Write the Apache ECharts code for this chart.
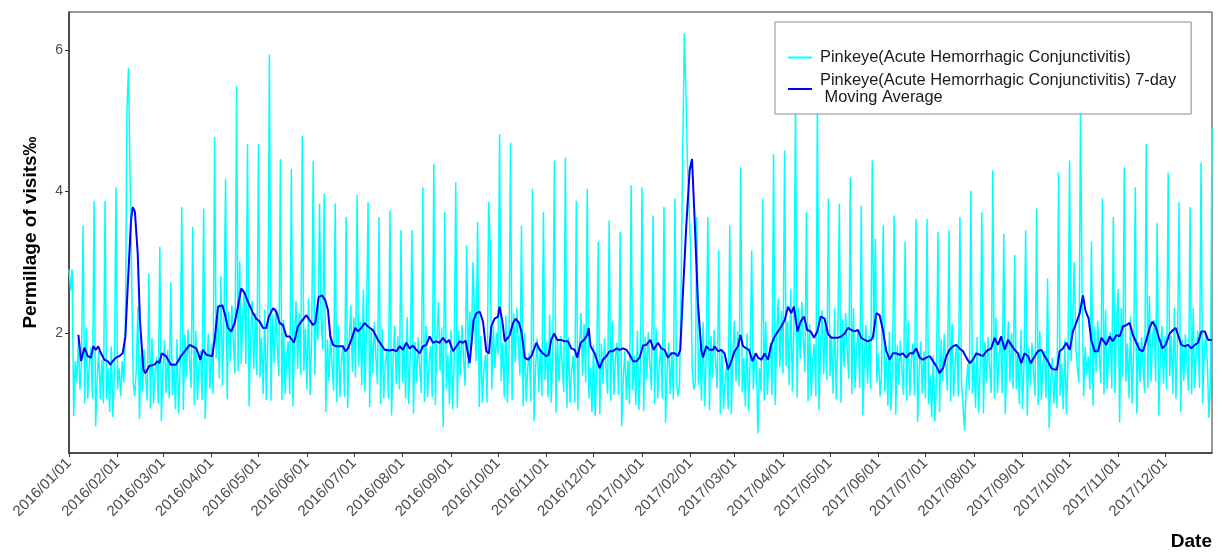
<!DOCTYPE html>
<html>
<head>
<meta charset="utf-8">
<title>Pinkeye visits</title>
<script src="https://cdn.jsdelivr.net/npm/echarts@6.0.0/dist/echarts.min.js"></script>
<style>
  html, body { margin: 0; padding: 0; background: #fff; }
  #chart { width: 1222px; height: 556px; }
</style>
</head>
<body>
<div id="chart"></div>
<script>
// day 0 = 2016/01/01, one value per day, rows are Mon..Sun weeks
const dailyVisits = [
  2.9, 2.6, 2.9,
  0.82, 1.6, 1.3, 1.9, 1.2, 1.6, 3.52,
  1.0, 2.07, 1.07, 1.57, 1.79, 1.07, 3.87,
  0.68, 1.37, 1.74, 1.06, 1.62, 1.0, 3.87,
  1.06, 1.5, 0.88, 1.81, 0.81, 1.44, 4.06,
  1.2, 1.5, 1.1, 1.6, 1.3, 2.0, 5.12,
  5.75, 4.2, 2.8, 1.3, 1.1, 1.5, 2.37,
  0.78, 1.69, 1.17, 1.76, 1.37, 1.04, 2.84,
  0.93, 1.93, 1.0, 1.46, 1.66, 1.0, 3.22,
  0.75, 1.49, 1.9, 1.15, 1.76, 1.08, 2.72,
  1.12, 1.58, 0.92, 1.91, 0.86, 1.52, 3.78,
  0.91, 1.98, 1.37, 2.05, 1.6, 1.22, 3.5,
  0.98, 2.03, 1.05, 1.54, 1.75, 1.05, 3.76,
  0.78, 1.56, 1.99, 1.21, 1.85, 1.14, 4.77,
  1.64, 2.32, 1.35, 2.8, 1.25, 2.22, 4.18,
  1.06, 2.3, 1.59, 2.39, 1.86, 1.42, 5.49,
  1.46, 3.02, 1.56, 2.29, 2.6, 1.56, 4.67,
  0.96, 1.93, 2.45, 1.49, 2.28, 1.4, 4.67,
  1.37, 1.93, 1.13, 2.33, 1.05, 1.85, 5.94,
  1.04, 2.26, 1.57, 2.35, 1.83, 1.39, 4.46,
  1.05, 2.18, 1.13, 1.65, 1.88, 1.13, 4.32,
  0.96, 1.93, 2.45, 1.49, 2.28, 1.4, 4.79,
  1.46, 2.06, 1.2, 2.49, 1.12, 1.98, 4.44,
  1.4, 2.3, 1.9, 3.83, 2.2, 1.76, 3.97,
  0.88, 1.91, 1.32, 1.98, 1.54, 1.18, 3.83,
  1.02, 2.1, 1.09, 1.6, 1.81, 1.09, 3.64,
  0.94, 1.88, 2.39, 1.45, 2.22, 1.37, 3.95,
  1.53, 2.16, 1.26, 2.61, 1.17, 2.07, 3.85,
  0.95, 2.07, 1.43, 2.15, 1.67, 1.27, 3.64,
  0.99, 2.06, 1.07, 1.56, 1.78, 1.07, 3.73,
  0.83, 1.65, 2.1, 1.28, 1.95, 1.2, 3.45,
  1.3, 1.84, 1.07, 2.22, 0.99, 1.76, 3.45,
  0.86, 1.87, 1.3, 1.94, 1.51, 1.15, 4.06,
  1.02, 2.1, 1.09, 1.6, 1.81, 1.09, 4.39,
  0.98, 1.96, 2.44, 1.46, 2.08, 0.66, 3.71,
  1.2, 1.69, 0.99, 2.04, 0.92, 1.62, 4.13,
  0.94, 2.03, 1.4, 2.11, 1.64, 1.25, 3.24,
  1.5, 2.3, 1.8, 3.0, 2.26, 1.6, 3.57,
  0.95, 1.96, 1.01, 1.49, 1.69, 1.01, 3.85,
  3.29, 1.2, 2.1, 1.5, 2.0, 1.69, 4.81,
  1.32, 1.86, 1.09, 2.25, 1.01, 1.78, 4.69,
  1.05, 2.28, 1.58, 2.36, 1.84, 1.4, 3.52,
  0.96, 1.99, 1.03, 1.51, 1.71, 1.03, 4.04,
  0.75, 1.51, 1.92, 1.16, 1.78, 1.1, 3.71,
  1.33, 1.87, 1.09, 2.26, 1.01, 1.79, 4.44,
  0.87, 1.89, 1.31, 1.96, 1.52, 1.16, 4.48,
  0.94, 1.94, 1.01, 1.47, 1.68, 1.01, 3.87,
  0.9, 1.79, 2.28, 1.39, 2.12, 1.3, 4.04,
  1.07, 1.51, 0.88, 1.83, 0.82, 1.45, 3.29,
  0.85, 1.85, 1.28, 1.92, 1.49, 1.14, 3.59,
  1.04, 2.16, 1.12, 1.64, 1.86, 1.12, 3.43,
  0.68, 1.36, 1.74, 1.05, 1.61, 0.99, 4.09,
  1.19, 1.68, 0.98, 2.03, 0.91, 1.61, 4.06,
  0.89, 1.94, 1.34, 2.01, 1.56, 1.19, 3.66,
  0.99, 2.06, 1.07, 1.56, 1.78, 1.07, 3.78,
  0.73, 1.46, 1.86, 1.13, 1.73, 1.06, 3.9,
  1.3, 1.1, 1.3, 2.8, 4.6, 6.24, 5.4,
  4.4, 3.8, 3.2, 1.5, 1.2, 1.3, 3.64,
  1.26, 1.78, 1.04, 2.15, 0.96, 1.7, 3.64,
  0.91, 1.96, 1.36, 2.04, 1.59, 1.21, 3.17,
  0.85, 1.77, 0.92, 1.34, 1.53, 0.92, 3.52,
  0.85, 1.71, 2.17, 1.32, 2.02, 1.24, 4.34,
  1.16, 1.64, 0.96, 1.99, 0.89, 1.58, 3.17,
  1.2, 1.67, 1.6, 0.58, 1.5, 1.17, 3.9,
  1.04, 2.16, 1.12, 1.64, 1.86, 1.12, 4.53,
  0.98, 1.96, 2.49, 1.51, 2.31, 1.42, 4.58,
  1.53, 2.16, 1.26, 2.61, 1.17, 2.07, 5.3,
  1.09, 2.35, 1.63, 2.44, 1.9, 1.45, 3.71,
  1.03, 2.13, 1.1, 1.62, 1.84, 1.1, 5.35,
  0.91, 1.83, 2.32, 1.41, 2.16, 1.33, 3.9,
  1.39, 1.96, 1.14, 2.36, 1.06, 1.87, 3.83,
  1.01, 2.2, 1.52, 2.28, 1.77, 1.35, 4.2,
  1.13, 2.35, 1.22, 1.78, 2.03, 1.22, 3.8,
  0.83, 1.66, 2.11, 1.28, 1.96, 1.21, 4.44,
  1.9, 3.33, 1.3, 1.7, 1.1, 1.43, 3.52,
  1.18, 1.67, 0.97, 2.02, 0.9, 1.6, 3.66,
  0.84, 1.82, 1.26, 1.89, 1.47, 1.12, 3.29,
  1.04, 2.15, 1.11, 1.63, 1.85, 1.11, 3.61,
  0.74, 1.47, 1.88, 1.14, 1.74, 1.07, 3.61,
  0.99, 1.39, 0.81, 1.68, 0.75, 1.33, 3.43,
  0.88, 1.91, 1.32, 1.98, 1.54, 1.18, 3.45,
  1.03, 2.13, 1.1, 1.62, 1.84, 1.1, 3.64,
  1.3, 1.32, 0.62, 1.2, 1.56, 1.19, 4.01,
  1.14, 1.61, 0.94, 1.94, 0.87, 1.55, 3.71,
  0.86, 1.87, 1.3, 1.94, 1.51, 1.15, 4.3,
  1.07, 2.22, 1.15, 1.68, 1.91, 1.15, 3.4,
  0.85, 1.69, 2.16, 1.31, 2.0, 1.21, 3.1,
  1.2, 1.69, 0.99, 2.04, 0.92, 1.61, 3.45,
  0.83, 1.79, 1.24, 1.86, 1.45, 1.11, 3.76,
  0.98, 2.03, 1.05, 1.54, 1.75, 1.08, 2.77,
  0.65, 1.3, 1.65, 1.0, 1.53, 0.94, 4.27,
  1.11, 1.57, 0.92, 1.9, 0.85, 1.53, 4.44,
  1.6, 2.1, 3.0, 1.8, 1.5, 1.3, 5.15,
  2.7, 1.1, 1.8, 1.4, 1.67, 1.2, 3.29,
  0.97, 2.09, 1.45, 2.17, 1.69, 1.29, 3.9,
  1.13, 2.33, 1.21, 1.77, 2.01, 1.21, 3.64,
  1.15, 2.1, 2.62, 0.73, 2.35, 1.38, 4.34,
  1.31, 1.85, 1.08, 2.23, 1.0, 1.77, 4.06,
  0.86, 1.87, 1.3, 1.94, 1.51, 1.15, 4.67,
  1.22, 2.52, 1.31, 1.91, 2.18, 1.31, 3.55,
  0.83, 1.65, 2.1, 1.28, 1.95, 1.2, 4.27,
  1.39, 1.96, 1.14, 2.36, 1.06, 1.87, 3.85,
  0.88, 1.91, 1.32, 1.98, 1.54, 1.18, 3.78,
  1.13, 2.35, 1.22, 1.78, 2.03, 1.22, 4.41,
  1.0, 1.7, 2.0, 1.6, 0.8, 1.29, 4.91
];

// 7-day moving average: [day, value]
const movingAvg = [
  [6,1.97],[7.7,1.60],[9.8,1.79],[12,1.67],[14,1.65],[15.5,1.81],[17.2,1.76],[18.7,1.81],[20.4,1.71],[22.6,1.62],
  [24.7,1.60],[26.4,1.55],[27.9,1.60],[30,1.65],[32.1,1.67],[34.3,1.71],[36,1.95],[37.5,2.65],[39.6,3.59],[40.7,3.78],
  [42.1,3.71],[43.9,3.12],[45.3,2.18],[47.5,1.48],[48.8,1.43],[51.3,1.53],[54.5,1.55],[56.6,1.60],[57.7,1.57],[59.2,1.71],
  [62,1.67],[65.1,1.55],[68.3,1.55],[71.5,1.67],[77.1,1.83],[81.3,1.78],[83.9,1.62],[85.6,1.76],[87.7,1.69],[91.5,1.67],
  [93,1.9],[95.2,2.37],[97.9,2.39],[99.4,2.28],[101.5,2.07],[103.7,2.02],[105.8,2.14],[107.9,2.37],[110,2.63],[112.2,2.56],
  [114.3,2.44],[117.5,2.28],[119.6,2.2],[121.8,2.16],[123.9,2.07],[126,2.07],[127.7,2.23],[130.3,2.35],[132.4,2.30],[134.5,2.14],
  [136.7,2.11],[138.8,1.95],[140.9,1.95],[143.7,1.86],[146.2,2.09],[148.4,2.16],[151.6,2.25],[153.7,2.18],[155.8,2.11],[157.3,2.14],
  [159.5,2.51],[161.6,2.53],[163.7,2.46],[165.4,2.32],[166.9,1.95],[168.6,1.83],[170.7,1.81],[172.9,1.81],[175,1.81],[176.5,1.74],
  [178.2,1.78],[180.3,1.9],[182.8,2.07],[184.6,2.02],[186.7,2.07],[188.8,2.14],[190.9,2.09],[194.1,2.04],[197.3,1.9],[199.5,1.83],
  [201.6,1.76],[204.8,1.75],[206.9,1.76],[209.1,1.74],[211.2,1.81],[213.3,1.76],[215.4,1.86],[217.6,1.78],[219.7,1.82],[221.8,1.76],
  [224,1.71],[226.1,1.81],[228.2,1.83],[230.3,1.95],[232.5,1.86],[234.6,1.88],[236.7,1.86],[238.9,1.93],[241,1.86],[242.7,1.9],
  [245.3,1.74],[247.4,1.81],[249.5,1.88],[251.6,1.86],[253.3,1.89],[255.9,1.57],[258.4,2.18],[260.2,2.28],[262.3,2.30],[264.4,2.16],
  [266.5,1.74],[268.2,1.71],[269.7,2.09],[271.8,2.2],[274,2.23],[275,2.37],[276.8,2.16],[278.3,1.88],[280.4,1.93],[281.5,1.97],
  [283.6,2.14],[285.3,2.2],[287.4,2.14],[288.9,2.02],[291.1,1.65],[293.2,1.62],[295.3,1.67],[298.5,1.86],[300.6,1.76],[302.7,1.71],
  [304.8,1.67],[306.3,1.69],[308,1.9],[309.7,1.99],[311.9,1.9],[314.4,1.9],[316.5,1.88],[318.7,1.88],[320.8,1.78],[323,1.76],
  [324.6,1.65],[326.8,1.86],[328.9,1.9],[331,1.97],[331.9,2.07],[333.1,1.81],[335.7,1.71],[337.8,1.57],[338.9,1.5],[341,1.62],
  [343.2,1.67],[345.3,1.74],[347.4,1.74],[349.6,1.78],[351.7,1.76],[353.8,1.78],[356,1.76],[358.1,1.69],[360.2,1.6],[362.4,1.6],
  [364.5,1.65],[366.6,1.82],[368.7,1.83],[371.3,1.9],[373.4,1.76],[376.2,1.86],[378.3,1.78],[380.4,1.76],[382.5,1.65],[384.7,1.71],
  [386.8,1.71],[388.9,1.67],[390.4,1.76],[392.1,2.56],[394.2,3.50],[396.4,4.30],[397.9,4.46],[399.6,3.59],[401.7,2.42],[403.8,1.76],
  [404.9,1.65],[407,1.81],[409.1,1.76],[411.3,1.76],[412.3,1.81],[414.5,1.74],[416.6,1.76],[418.7,1.71],[420.9,1.48],[423,1.6],
  [425.1,1.74],[427.3,1.81],[428.8,1.97],[430.5,1.81],[432.6,1.78],[434.3,1.76],[436.5,1.6],[438.6,1.71],[440.1,1.65],[442.2,1.62],
  [444.3,1.71],[446.4,1.62],[448.5,1.83],[450.7,1.95],[452.8,2.02],[454.9,2.09],[457.1,2.18],[459.2,2.37],[461.3,2.28],[463,2.37],
  [465.2,2.02],[467.3,2.16],[469.4,2.23],[471.5,2.04],[473.7,2.02],[475.8,1.93],[477.9,2.02],[480.1,2.23],[482.6,2.2],[484.7,1.99],
  [486.9,1.93],[489,1.93],[491.1,1.93],[493.2,1.95],[495.4,1.99],[497.5,2.07],[499.6,2.04],[501.8,2.02],[503.9,2.04],[506,1.93],
  [508.1,1.9],[510.3,1.88],[512.4,1.9],[513.5,1.95],[515.6,2.28],[517.7,2.25],[519.8,2.04],[522,1.74],[524.1,1.62],[526.2,1.71],
  [528.4,1.71],[530.5,1.69],[532.6,1.71],[534.8,1.65],[536.9,1.71],[539,1.71],[541.1,1.78],[543.3,1.65],[545.4,1.62],[547.5,1.65],
  [549.7,1.67],[551.8,1.6],[553.9,1.53],[556,1.43],[558.2,1.5],[560.3,1.67],[562.4,1.76],[564.6,1.81],[566.7,1.83],[568.8,1.78],
  [571,1.74],[573.1,1.65],[575.2,1.57],[577.3,1.62],[579.5,1.71],[581.6,1.69],[583.7,1.67],[585.9,1.74],[589,1.78],[591.2,1.93],
  [593.3,1.83],[595.4,1.95],[597.6,1.76],[599.7,1.9],[601.8,1.83],[603.9,1.76],[606.1,1.71],[608.2,1.57],[610.3,1.71],[612.5,1.67],
  [614.2,1.57],[616.3,1.65],[618.8,1.74],[621,1.76],[623.1,1.67],[625.2,1.6],[627.3,1.5],[629.5,1.48],[631,1.48],[632.7,1.74],
  [634.8,1.78],[636.9,1.86],[639.1,1.76],[641.2,2.02],[643.3,2.14],[645.5,2.28],[647.6,2.53],[649.1,2.32],[651.2,2.2],[652.9,1.9],
  [655,1.74],[657.2,1.74],[659.3,1.93],[662.5,1.83],[664.6,1.95],[666.7,1.88],[668.9,1.97],[671,1.95],[673.1,2.09],[675.3,2.11],
  [677.4,2.14],[679.5,1.97],[681.7,1.86],[683.8,1.76],[685.9,1.74],[688.1,1.9],[690.2,2.07],[691.9,2.16],[694,2.09],[696.1,1.93],
  [698.3,1.78],[700.4,1.83],[703,1.99],[705.1,2.04],[706.8,2.07],[708.3,1.97],[710.4,1.83],[712.6,1.81],[714.7,1.83],[716.8,1.78],
  [719,1.83],[721.1,1.86],[723.2,2.02],[725.4,2.02],[727.5,1.9],[730,1.9]
];

const monthLabels = [
  "2016/01/01", "2016/02/01", "2016/03/01", "2016/04/01", "2016/05/01", "2016/06/01",
  "2016/07/01", "2016/08/01", "2016/09/01", "2016/10/01", "2016/11/01", "2016/12/01",
  "2017/01/01", "2017/02/01", "2017/03/01", "2017/04/01", "2017/05/01", "2017/06/01",
  "2017/07/01", "2017/08/01", "2017/09/01", "2017/10/01", "2017/11/01", "2017/12/01"
];
const yTicks = [2, 4, 6];

const seriesNames = [
  "Pinkeye(Acute Hemorrhagic Conjunctivitis)",
  "Pinkeye(Acute Hemorrhagic Conjunctivitis) 7-day\n Moving Average"
];

// day index of each month start, counted from 2016/01/01
const day0 = Date.UTC(2016, 0, 1);
const monthIdx = monthLabels.map(function (s) {
  const p = s.split("/");
  return Math.round((Date.UTC(+p[0], +p[1] - 1, +p[2]) - day0) / 86400000);
});

const font = "'Liberation Sans', Arial, sans-serif";
const chart = echarts.init(document.getElementById("chart"));

chart.setOption({
  animation: false,
  backgroundColor: "#fff",
  textStyle: { fontFamily: font },
  grid: {
    left: 69,
    right: 10,
    top: 12,
    bottom: 103,
    show: true,
    borderColor: "#333",
    borderWidth: 1,
    containLabel: false
  },
  title: {
    text: "Date",
    right: 10,
    top: 532,
    padding: 0,
    textStyle: { fontFamily: font, fontSize: 19, fontWeight: "bold", color: "#000" }
  },
  legend: {
    orient: "vertical",
    left: 775,
    top: 22,
    padding: [27, 15, 8, 13],
    itemGap: 6,
    itemWidth: 24,
    itemHeight: 2,
    icon: "rect",
    backgroundColor: "#fff",
    borderColor: "#8c8c8c",
    borderWidth: 1,
    borderRadius: 0,
    textStyle: { fontFamily: font, fontSize: 16.4, color: "#1a1a1a", lineHeight: 17, padding: [0, 0, 0, 3] },
    data: seriesNames
  },
  xAxis: {
    type: "value",
    min: 0,
    max: dailyVisits.length - 1,
    splitLine: { show: false },
    axisLine: { show: true, onZero: false, lineStyle: { color: "#333", width: 1.5 } },
    axisTick: { show: true, customValues: monthIdx, length: 4, lineStyle: { color: "#333" } },
    axisLabel: {
      customValues: monthIdx,
      rotate: 45,
      margin: 8,
      fontSize: 15,
      color: "#4d4d4d",
      fontFamily: font,
      formatter: function (v) {
        const i = monthIdx.indexOf(Math.round(v));
        return i >= 0 ? monthLabels[i] : "";
      }
    }
  },
  yAxis: {
    type: "value",
    min: 0.3,
    max: 6.54,
    name: "Permillage of visits\u2030",
    nameLocation: "middle",
    nameGap: 29,
    nameTextStyle: { fontFamily: font, fontSize: 19, fontWeight: "bold", color: "#000" },
    splitLine: { show: false },
    axisLine: { show: true, onZero: false, lineStyle: { color: "#333", width: 1.5 } },
    axisTick: { show: true, customValues: yTicks, length: 4, lineStyle: { color: "#333" } },
    axisLabel: { customValues: yTicks, margin: 6, fontSize: 14, color: "#4d4d4d", fontFamily: font }
  },
  series: [
    {
      name: seriesNames[0],
      type: "line",
      data: dailyVisits.map(function (v, i) { return [i, v]; }),
      showSymbol: false,
      itemStyle: { color: "#00ffff" },
      lineStyle: { color: "#00ffff", width: 1.5 },
      z: 2
    },
    {
      name: seriesNames[1],
      type: "line",
      data: movingAvg,
      showSymbol: false,
      itemStyle: { color: "#0000ff" },
      lineStyle: { color: "#0000ff", width: 2 },
      z: 3
    }
  ]
});
</script>
</body>
</html>
